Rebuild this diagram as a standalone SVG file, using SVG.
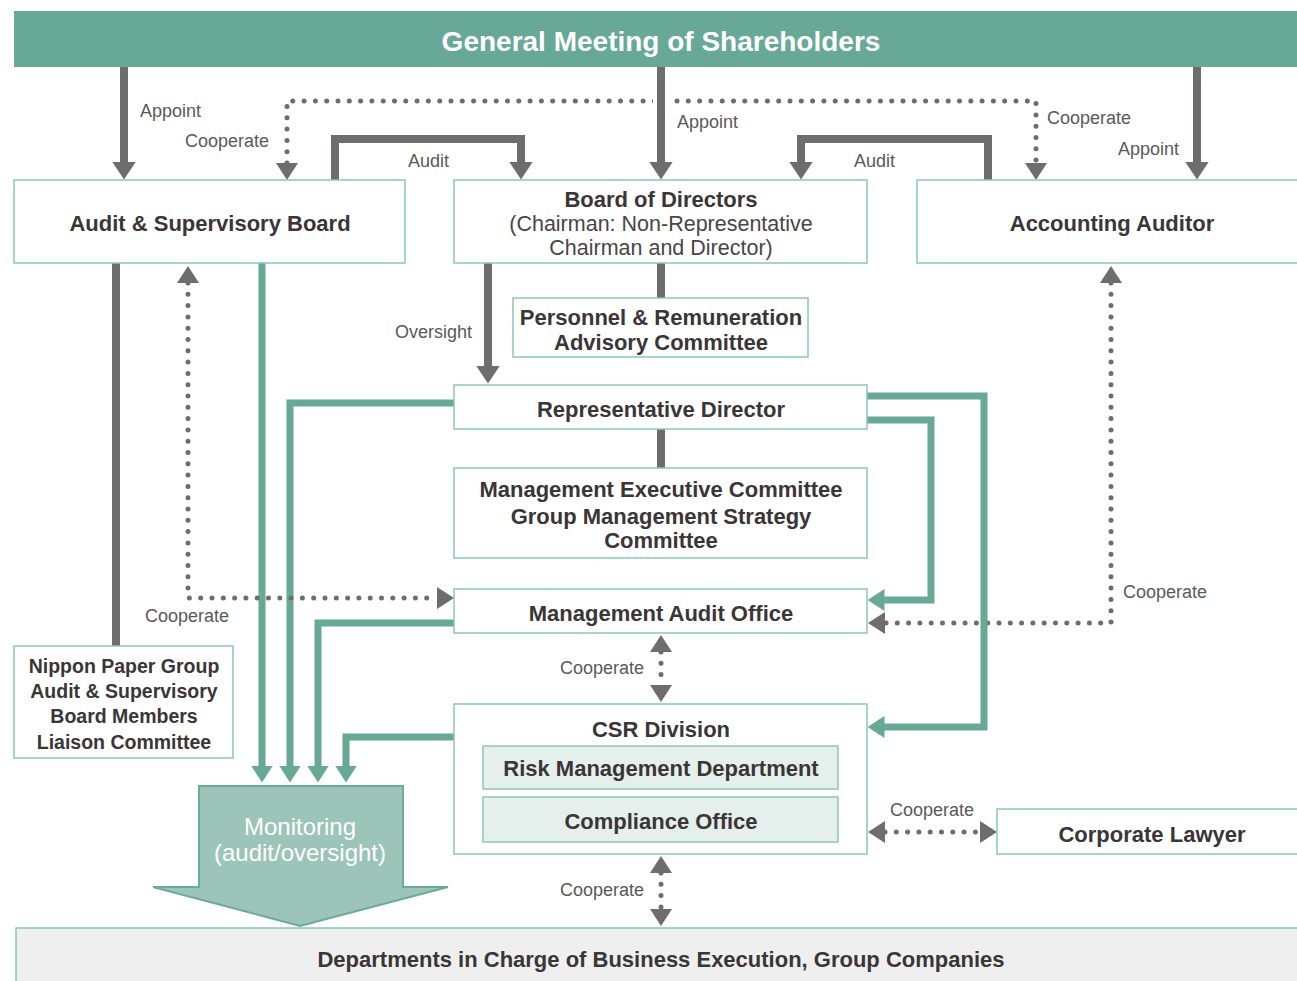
<svg xmlns="http://www.w3.org/2000/svg" width="1297" height="981" viewBox="0 0 1297 981">
  <style>
    .box{fill:#ffffff;stroke:#8cc7b6;stroke-width:1.5}
    .sub{fill:#e5efec;stroke:#8cc7b6;stroke-width:1.5}
    .t{font-family:"Liberation Sans",Arial,sans-serif;font-size:22px;font-weight:bold;fill:#3a3536;text-anchor:middle}
    .sm{font-size:19.5px}
    .lt{font-family:"Liberation Sans",Arial,sans-serif;font-size:21.5px;fill:#4a4546;text-anchor:middle}
    .lbl{font-family:"Liberation Sans",Arial,sans-serif;font-size:18px;fill:#5b5859}
    .g{stroke:#6e6c6d;stroke-width:8;fill:none}
    .tl{stroke:#67a897;stroke-width:7;fill:none}
    .d{stroke:#6e6c6d;stroke-width:5;stroke-linecap:round;stroke-dasharray:0 11.3;fill:none;marker-start:url(#md);marker-end:url(#md)}
  </style>
  <defs>
    <marker id="mg" markerUnits="userSpaceOnUse" markerWidth="18" markerHeight="24" viewBox="0 0 18 24" refX="0.5" refY="12" orient="auto">
      <path d="M0,0L18,12L0,24z" fill="#6e6c6d"/>
    </marker>
    <marker id="md" markerUnits="userSpaceOnUse" markerWidth="17" markerHeight="22" viewBox="0 0 17 22" refX="0" refY="11" orient="auto-start-reverse">
      <path d="M0,0L17,11L0,22z" fill="#6e6c6d"/>
    </marker>
    <marker id="mt" markerUnits="userSpaceOnUse" markerWidth="17" markerHeight="22" viewBox="0 0 17 22" refX="0.5" refY="11" orient="auto">
      <path d="M0,0L17,11L0,22z" fill="#67a897"/>
    </marker>
  </defs>

  <!-- connectors -->
  <g id="connectors">
    <!-- dotted cooperation links -->
    <path class="d" d="M287,163V101H1036V163"/>
    <path class="d" d="M1111,283V623H885"/>
    <path class="d" d="M661,652V685"/>
    <path class="d" d="M661,873V909"/>
    <path class="d" d="M885,832H980"/>

    <!-- appointment / audit / reporting lines -->
    <path class="g" d="M124,67V162" marker-end="url(#mg)"/>
    <path d="M661,67V162" stroke="#ffffff" stroke-width="16"/>
    <path class="g" d="M661,67V162" marker-end="url(#mg)"/>
    <path class="g" d="M1197,67V162" marker-end="url(#mg)"/>
    <path class="g" d="M335,180V139H521V162" marker-end="url(#mg)"/>
    <path class="g" d="M988,180V139H801V162" marker-end="url(#mg)"/>
    <path class="g" d="M661,263V298"/>
    <path class="g" d="M488,263V366" marker-end="url(#mg)"/>
    <path class="g" d="M661,429V468"/>
    <path class="g" d="M116,263V646"/>

    <!-- monitoring lines -->
    <path class="tl" d="M262,263V766" marker-end="url(#mt)"/>
    <path class="tl" d="M454,403H290V766" marker-end="url(#mt)"/>
    <path class="tl" d="M454,623H318V766" marker-end="url(#mt)"/>
    <path class="tl" d="M454,737H346V766" marker-end="url(#mt)"/>
    <path class="tl" d="M867,396H984V727H884" marker-end="url(#mt)"/>
    <path class="tl" d="M867,420H931V600H884" marker-end="url(#mt)"/>

    <path class="d" d="M188,283V598H437"/>

    <!-- connector labels -->
    <text class="lbl" x="140" y="117">Appoint</text>
    <text class="lbl" x="185" y="147">Cooperate</text>
    <text class="lbl" x="408" y="167">Audit</text>
    <text class="lbl" x="677" y="128">Appoint</text>
    <text class="lbl" x="854" y="167">Audit</text>
    <text class="lbl" x="1047" y="124">Cooperate</text>
    <text class="lbl" x="1118" y="155">Appoint</text>
    <text class="lbl" x="395" y="338">Oversight</text>
    <text class="lbl" x="145" y="622">Cooperate</text>
    <text class="lbl" x="1123" y="598">Cooperate</text>
    <text class="lbl" x="560" y="674">Cooperate</text>
    <text class="lbl" x="890" y="816">Cooperate</text>
    <text class="lbl" x="560" y="896">Cooperate</text>
  </g>

  <g id="shareholders">
    <rect x="14" y="11" width="1290" height="56" fill="#67a897"/>
    <text class="t" x="661" y="51" style="font-size:28px;fill:#ffffff">General Meeting of Shareholders</text>
  </g>

  <g id="audit-supervisory-board">
    <rect class="box" x="14" y="180" width="391" height="83"/>
    <text class="t" x="210" y="231">Audit &amp; Supervisory Board</text>
  </g>

  <g id="board-of-directors">
    <rect class="box" x="454" y="180" width="413" height="83"/>
    <text class="t" x="661" y="207">Board of Directors</text>
    <text class="lt" x="661" y="231">(Chairman: Non-Representative</text>
    <text class="lt" x="661" y="255">Chairman and Director)</text>
  </g>

  <g id="accounting-auditor">
    <rect class="box" x="917" y="180" width="390" height="83"/>
    <text class="t" x="1112" y="231">Accounting Auditor</text>
  </g>

  <g id="personnel-committee">
    <rect class="box" x="513" y="298" width="295" height="59"/>
    <text class="t" x="661" y="325">Personnel &amp; Remuneration</text>
    <text class="t" x="661" y="350">Advisory Committee</text>
  </g>

  <g id="representative-director">
    <rect class="box" x="454" y="385" width="413" height="44"/>
    <text class="t" x="661" y="417">Representative Director</text>
  </g>

  <g id="executive-committee">
    <rect class="box" x="454" y="468" width="413" height="90"/>
    <text class="t" x="661" y="497">Management Executive Committee</text>
    <text class="t" x="661" y="524">Group Management Strategy</text>
    <text class="t" x="661" y="548">Committee</text>
  </g>

  <g id="management-audit-office">
    <rect class="box" x="454" y="589" width="413" height="44"/>
    <text class="t" x="661" y="621">Management Audit Office</text>
  </g>

  <g id="csr-division">
    <rect class="box" x="454" y="704" width="413" height="150"/>
    <text class="t" x="661" y="737">CSR Division</text>
    <rect class="sub" x="483" y="746" width="355" height="43"/>
    <text class="t" x="661" y="776">Risk Management Department</text>
    <rect class="sub" x="483" y="797" width="355" height="45"/>
    <text class="t" x="661" y="829">Compliance Office</text>
  </g>

  <g id="liaison-committee">
    <rect class="box" x="14" y="646" width="219" height="112"/>
    <text class="t sm" x="124" y="673">Nippon Paper Group</text>
    <text class="t sm" x="124" y="698">Audit &amp; Supervisory</text>
    <text class="t sm" x="124" y="723">Board Members</text>
    <text class="t sm" x="124" y="749">Liaison Committee</text>
  </g>

  <g id="corporate-lawyer">
    <rect class="box" x="997" y="809" width="310" height="45"/>
    <text class="t" x="1152" y="842">Corporate Lawyer</text>
  </g>

  <g id="monitoring">
    <polygon points="199,786 403,786 403,887 448,887 300,926 153,887 199,887" fill="#9cc4b8" stroke="#6aab9a" stroke-width="2"/>
    <text class="t" x="300" y="835" style="font-size:24px;font-weight:normal;fill:#ffffff">Monitoring</text>
    <text class="t" x="300" y="861" style="font-size:24px;font-weight:normal;fill:#ffffff">(audit/oversight)</text>
  </g>

  <g id="business-execution">
    <rect x="16" y="928" width="1290" height="60" fill="#efefef" stroke="#8cc7b6" stroke-width="1.5"/>
    <text class="t" x="661" y="967">Departments in Charge of Business Execution, Group Companies</text>
  </g>
</svg>
